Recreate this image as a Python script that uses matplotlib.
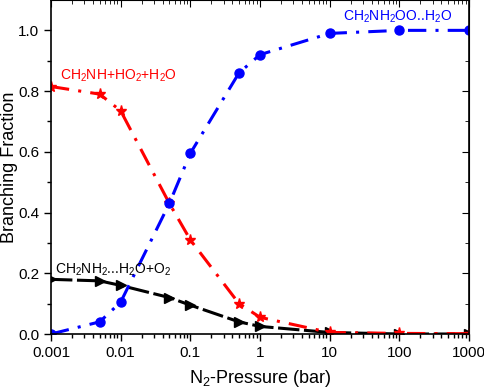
import matplotlib
matplotlib.use("Agg")
import matplotlib.pyplot as plt
from matplotlib.ticker import LogLocator, NullFormatter, FixedLocator

plt.rcParams['font.family'] = ['Liberation Sans', 'DejaVu Sans']
plt.rcParams['mathtext.fontset'] = 'custom'
plt.rcParams['mathtext.rm'] = 'Liberation Sans'

pressure = [0.001, 0.005, 0.01, 0.05, 0.1, 0.5, 1, 10, 100, 1000]
adduct = [0.0, 0.04, 0.105, 0.43, 0.595, 0.86, 0.92, 0.99, 1.0, 1.0]
imine = [0.815, 0.79, 0.735, 0.43, 0.31, 0.10, 0.055, 0.005, 0.002, 0.001]
complex_o2 = [0.18, 0.175, 0.16, 0.12, 0.095, 0.04, 0.025, 0.005, 0.0, 0.0]

xticks = [0.001, 0.01, 0.1, 1, 10, 100, 1000]
xticklabels = ["0.001", "0.01", "0.1", "1", "10", "100", "1000"]
yticks = [0.0, 0.2, 0.4, 0.6, 0.8, 1.0]
yticklabels = ["0.0", "0.2", "0.4", "0.6", "0.8", "1.0"]
yminor = [0.1, 0.3, 0.5, 0.7, 0.9]

fig = plt.figure(figsize=(4.84, 3.91), dpi=100)
ax = fig.add_axes([51 / 484, 1 - 334 / 391, 418 / 484, 334 / 391])

dashdot = (0, (6, 3, 1, 3))
ax.plot(pressure, complex_o2, color='black', lw=2.2, ls=(0, (7, 1.5)),
        marker='>', ms=7)
ax.plot(pressure, imine, color='red', lw=2.2, ls=dashdot,
        marker='*', ms=8)
ax.plot(pressure, adduct, color='blue', lw=2.2, ls=dashdot,
        marker='o', ms=6.5)

ax.set_xscale('log')
ax.set_xlim(0.001, 1000)
ax.set_ylim(0, 1.1)
ax.xaxis.set_major_locator(FixedLocator(xticks))
ax.set_xticklabels(xticklabels)
ax.xaxis.set_minor_locator(LogLocator(base=10, subs=range(2, 10), numticks=20))
ax.xaxis.set_minor_formatter(NullFormatter())
ax.set_yticks(yticks)
ax.set_yticklabels(yticklabels)
ax.yaxis.set_minor_locator(FixedLocator(yminor))

ax.tick_params(axis='both', which='major', labelsize=11, width=1, length=5,
               direction='out')
ax.tick_params(axis='both', which='minor', width=1, length=3, direction='out')
for sp in ax.spines.values():
    sp.set_linewidth(1.2)

# mirrored ticks pointing inward on the top and right
top = ax.secondary_xaxis('top')
top.xaxis.set_major_locator(FixedLocator(xticks))
top.xaxis.set_minor_locator(LogLocator(base=10, subs=range(2, 10), numticks=20))
top.tick_params(which='major', direction='in', length=5, labeltop=False)
top.tick_params(which='minor', direction='in', length=3)
right = ax.secondary_yaxis('right')
right.set_yticks(yticks)
right.yaxis.set_minor_locator(FixedLocator(yminor))
right.tick_params(which='major', direction='in', length=5, labelright=False)
right.tick_params(which='minor', direction='in', length=3)

ax.set_xlabel(r'N$_2$-Pressure (bar)', fontsize=13, labelpad=6)
ax.set_ylabel('Branching Fraction', fontsize=13, labelpad=0)

ax.text(15.5, 1.046, r'CH$_2$NH$_2$OO..H$_2$O', color='blue', fontsize=10, va='center')
ax.text(0.00135, 0.852, r'CH$_2$NH+HO$_2$+H$_2$O', color='red', fontsize=10, va='center')
ax.text(0.00114, 0.21, r'CH$_2$NH$_2$...H$_2$O+O$_2$', color='black', fontsize=10, va='center')

fig.savefig('out.png', dpi=100)
